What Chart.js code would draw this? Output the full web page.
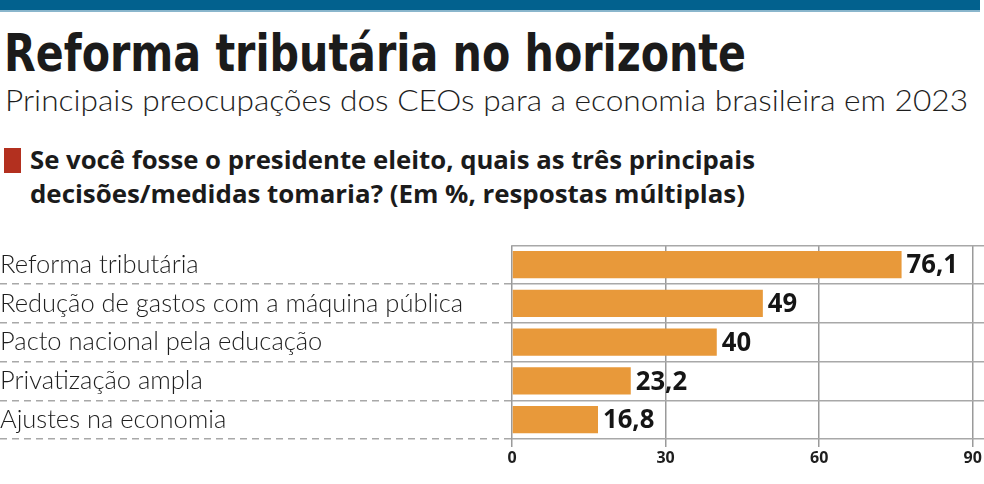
<!DOCTYPE html>
<html><head><meta charset="utf-8">
<script src="https://cdn.jsdelivr.net/npm/chart.js@4"></script>
<style>
html,body{margin:0;padding:0;background:#fff;width:984px;height:484px;overflow:hidden;}
#bar{position:absolute;left:0;top:0;width:980px;height:10px;background:#02618e;}
#bar2{position:absolute;left:0;top:10px;width:980px;height:2px;background:#8ab6cc;}
.t{position:absolute;white-space:nowrap;transform-origin:0 0;color:#1b1b1b;line-height:1;}
#title{left:4px;top:28px;font-family:"DejaVu Sans";font-weight:700;font-size:51px;}
#sub{left:5px;top:84px;font-family:"Lato";font-weight:300;font-size:30px;color:#1e1e1e;}
#sq{position:absolute;left:4px;top:148px;width:17px;height:25px;background:#b3301f;}
.q{left:30px;font-family:"Open Sans";font-weight:700;font-size:25px;}
#q1{top:147px;}
#q2{top:181px;}
#c{position:absolute;left:0;top:230px;}
</style></head>
<body>
<div id="bar"></div><div id="bar2"></div>
<div class="t" id="title" data-w="742">Reforma tributária no horizonte</div>
<div class="t" id="sub" data-w="963">Principais preocupações dos CEOs para a economia brasileira em 2023</div>
<div id="sq"></div>
<div class="t q" id="q1" data-w="725">Se você fosse o presidente eleito, quais as três principais</div>
<div class="t q" id="q2" data-w="715">decisões/medidas tomaria? (Em %, respostas múltiplas)</div>
<canvas id="c" width="984" height="254"></canvas>
<script>
const categories = ["Reforma tributária","Redução de gastos com a máquina pública","Pacto nacional pela educação","Privatização ampla","Ajustes na economia"];
const values = [76.1, 49, 40, 23.2, 16.8];
const xTicks = [0, 30, 60, 90];

document.querySelectorAll('.t[data-w]').forEach(el => {
  const w = el.getBoundingClientRect().width;
  const target = +el.dataset.w;
  el.style.transform = 'scaleX(' + (target / w) + ')';
});

const valueLabels = {
  id: 'valueLabels',
  afterDatasetsDraw(chart) {
    const ctx = chart.ctx;
    const meta = chart.getDatasetMeta(0);
    ctx.save();
    ctx.font = '700 27px "Open Sans"';
    ctx.fillStyle = '#151515';
    ctx.textBaseline = 'middle';
    ctx.textAlign = 'left';
    meta.data.forEach((el, i) => {
      const txt = String(values[i]).replace('.', ',');
      ctx.save();
      ctx.translate(el.x + 5, el.y + 1);
      ctx.scale(0.95, 1);
      ctx.fillText(txt, 0, 0);
      ctx.restore();
    });
    ctx.restore();
  }
};

new Chart(document.getElementById('c'), {
  type: 'bar',
  data: {
    labels: categories,
    datasets: [{
      data: values,
      backgroundColor: '#e8993a',
      borderWidth: 0,
      barPercentage: 0.7,
      categoryPercentage: 1
    }]
  },
  options: {
    indexAxis: 'y',
    responsive: false,
    animation: false,
    events: [],
    layout: { padding: { top: 12, bottom: 15, left: 0, right: 0 } },
    plugins: { legend: { display: false }, tooltip: { enabled: false } },
    scales: {
      x: {
        min: 0,
        max: 92.2,
        afterBuildTicks: s => { s.ticks = xTicks.map(v => ({ value: v })); },
        afterFit: s => { s.height = 30; },
        border: { display: false },
        grid: { color: '#9a9a9a', lineWidth: 1.5, tickLength: 8, drawTicks: true, tickColor: '#9a9a9a' },
        ticks: { padding: 2, color: '#1e1e1e', font: { family: 'Open Sans', weight: '700', size: 16 }, maxRotation: 0 }
      },
      y: {
        afterFit: s => { s.width = 512; },
        border: { display: false },
        grid: {
          offset: true,
          color: '#a8a8a8',
          lineWidth: 1.5,
          borderDash: [7, 5],
          drawTicks: true,
          tickLength: 512,
          tickBorderDash: [7, 5],
          tickColor: ctx => ctx.index === 0 ? 'rgba(0,0,0,0)' : '#a8a8a8',
          tickWidth: 1.5
        },
        ticks: { crossAlign: 'far', padding: 0, color: '#1e1e1e', font: { family: 'Lato', weight: '300', size: 25.5 } }
      }
    }
  },
  plugins: [valueLabels]
});
</script>
</body></html>
